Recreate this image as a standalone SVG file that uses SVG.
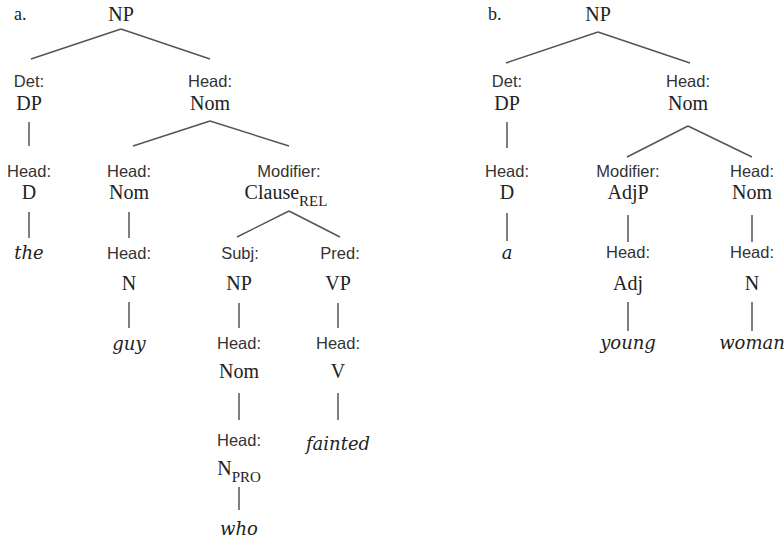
<svg xmlns="http://www.w3.org/2000/svg" width="784" height="539" viewBox="0 0 784 539">
<style>
.s{font-family:"Liberation Sans",Arial,sans-serif;font-size:16.5px;fill:#333;text-anchor:middle}
.c{font-family:"Liberation Serif","Times New Roman",serif;font-size:20px;fill:#222;text-anchor:middle}
.i{font-family:"DejaVu Serif",serif;font-style:italic;font-size:18px;fill:#222;text-anchor:middle}
.sub{font-size:15px}
.lbl{font-family:"Liberation Serif","Times New Roman",serif;font-size:18px;fill:#222}
#connectors line{stroke:#555;stroke-width:1.5;fill:none}
</style>
<rect width="784" height="539" fill="#fff"/>
<g id="connectors">
<line x1="121" y1="29" x2="31" y2="59"/>
<line x1="121" y1="29" x2="210" y2="59"/>
<line x1="29" y1="122" x2="29" y2="146"/>
<line x1="210" y1="121" x2="133" y2="146"/>
<line x1="210" y1="121" x2="289" y2="146"/>
<line x1="29" y1="212" x2="29" y2="238"/>
<line x1="129" y1="212" x2="129" y2="238"/>
<line x1="129" y1="302" x2="129" y2="328"/>
<line x1="289" y1="211" x2="237" y2="237"/>
<line x1="289" y1="211" x2="340" y2="237"/>
<line x1="239" y1="303" x2="239" y2="328"/>
<line x1="239" y1="393" x2="239" y2="420"/>
<line x1="239" y1="487" x2="239" y2="510"/>
<line x1="338" y1="303" x2="338" y2="328"/>
<line x1="338" y1="393" x2="338" y2="420"/>
<line x1="598" y1="32" x2="506" y2="63"/>
<line x1="598" y1="32" x2="690" y2="63"/>
<line x1="507" y1="122" x2="507" y2="148"/>
<line x1="688" y1="126" x2="627" y2="157"/>
<line x1="688" y1="126" x2="752" y2="157"/>
<line x1="507" y1="213" x2="507" y2="241"/>
<line x1="628" y1="215" x2="628" y2="242"/>
<line x1="628" y1="302" x2="628" y2="331"/>
<line x1="752" y1="215" x2="752" y2="242"/>
<line x1="752" y1="302" x2="752" y2="331"/>
</g>
<text class="lbl" x="14" y="20">a.</text>
<text class="lbl" x="488" y="20">b.</text>
<g id="a-np"><text class="c" x="121" y="21">NP</text></g>
<g id="a-dp"><text class="s" x="29" y="87">Det:</text><text class="c" x="29" y="110">DP</text></g>
<g id="a-nom"><text class="s" x="210" y="87">Head:</text><text class="c" x="210" y="110">Nom</text></g>
<g id="a-d"><text class="s" x="29" y="177">Head:</text><text class="c" x="29" y="199">D</text></g>
<g id="a-the"><text class="i" x="29" y="259">the</text></g>
<g id="a-nom2"><text class="s" x="129" y="177">Head:</text><text class="c" x="129" y="199">Nom</text></g>
<g id="a-n"><text class="s" x="129" y="259">Head:</text><text class="c" x="129" y="290">N</text></g>
<g id="a-guy"><text class="i" x="129" y="350">guy</text></g>
<g id="a-clause"><text class="s" x="289" y="177">Modifier:</text><text class="c" x="286" y="199">Clause<tspan class="sub" dy="7">REL</tspan></text></g>
<g id="a-np2"><text class="s" x="240" y="259">Subj:</text><text class="c" x="239" y="290">NP</text></g>
<g id="a-nom3"><text class="s" x="239" y="349">Head:</text><text class="c" x="239" y="378">Nom</text></g>
<g id="a-npro"><text class="s" x="239" y="446">Head:</text><text class="c" x="239" y="475">N<tspan class="sub" dy="7">PRO</tspan></text></g>
<g id="a-who"><text class="i" x="239" y="535">who</text></g>
<g id="a-vp"><text class="s" x="340" y="259">Pred:</text><text class="c" x="338" y="290">VP</text></g>
<g id="a-v"><text class="s" x="338" y="349">Head:</text><text class="c" x="338" y="378">V</text></g>
<g id="a-fainted"><text class="i" x="338" y="450">fainted</text></g>
<g id="b-np"><text class="c" x="598" y="21">NP</text></g>
<g id="b-dp"><text class="s" x="507" y="87">Det:</text><text class="c" x="507" y="110">DP</text></g>
<g id="b-nom"><text class="s" x="688" y="87">Head:</text><text class="c" x="688" y="110">Nom</text></g>
<g id="b-d"><text class="s" x="507" y="177">Head:</text><text class="c" x="507" y="199">D</text></g>
<g id="b-a"><text class="i" x="507" y="259">a</text></g>
<g id="b-adjp"><text class="s" x="628" y="177">Modifier:</text><text class="c" x="628" y="199">AdjP</text></g>
<g id="b-adj"><text class="s" x="628" y="258">Head:</text><text class="c" x="628" y="290">Adj</text></g>
<g id="b-young"><text class="i" x="628" y="349">young</text></g>
<g id="b-nom2"><text class="s" x="752" y="177">Head:</text><text class="c" x="752" y="199">Nom</text></g>
<g id="b-n"><text class="s" x="752" y="258">Head:</text><text class="c" x="752" y="290">N</text></g>
<g id="b-woman"><text class="i" x="752" y="349">woman</text></g>
</svg>
